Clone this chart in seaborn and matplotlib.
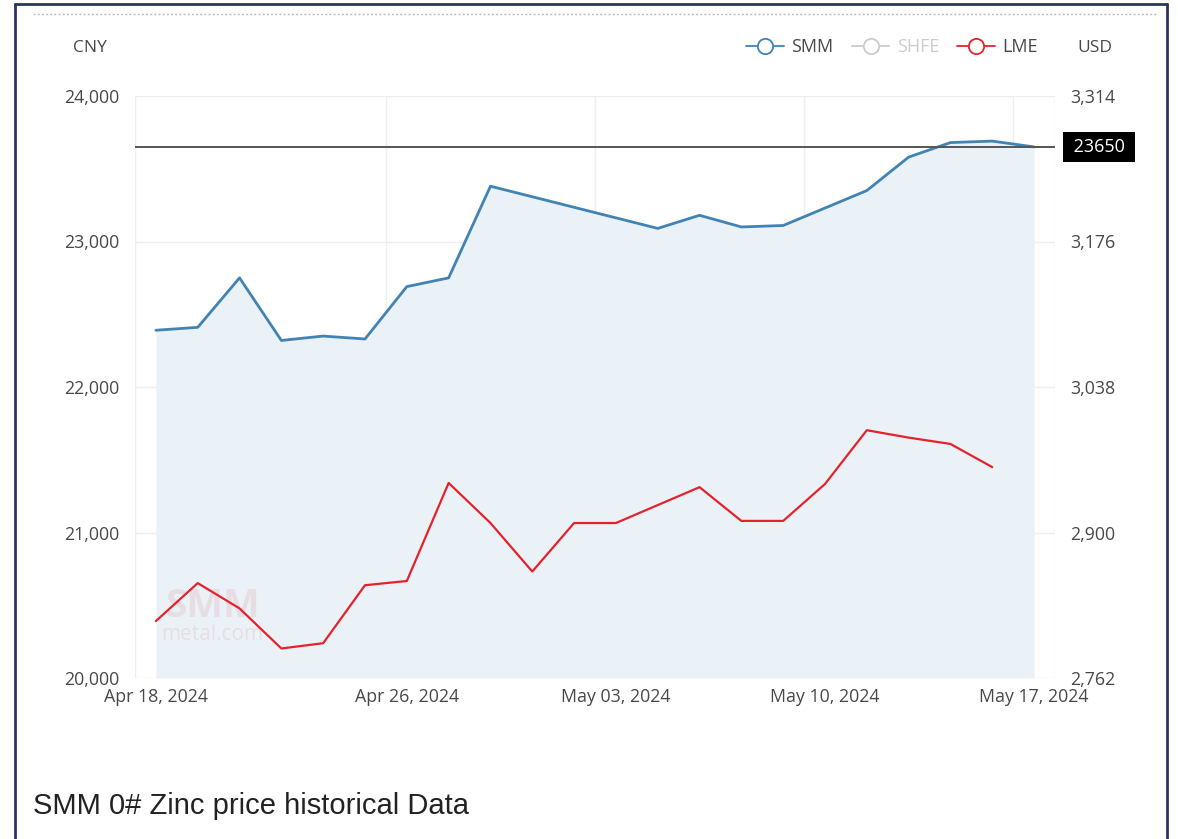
import pandas as pd
import matplotlib
matplotlib.use('Agg')
import matplotlib.pyplot as plt
import matplotlib.transforms as mtransforms
from matplotlib.lines import Line2D
from matplotlib.ticker import FuncFormatter
import seaborn as sns

# Datos (dias habiles, Apr 18 - May 17, 2024)
dates = ['2024-04-18', '2024-04-19', '2024-04-22', '2024-04-23', '2024-04-24', '2024-04-25',
         '2024-04-26', '2024-04-29', '2024-04-30', '2024-05-01', '2024-05-02', '2024-05-03',
         '2024-05-06', '2024-05-07', '2024-05-08', '2024-05-09', '2024-05-10', '2024-05-13',
         '2024-05-14', '2024-05-15', '2024-05-16', '2024-05-17']
smm_cny = [22390, 22410, 22750, 22320, 22350, 22330, 22690, 22750, 23380, None, None, None,
           23090, 23180, 23100, 23110, 23230, 23350, 23580, 23680, 23690, 23650]
lme_usd = [2816, 2852, 2828, 2790, 2795, 2850, 2854, 2947, 2909, 2863, 2909, 2909,
           2926, 2943, 2911, 2911, 2946, 2997, 2990, 2984, 2962, None]
tick_dates = ['Apr 18, 2024', 'Apr 26, 2024', 'May 03, 2024', 'May 10, 2024', 'May 17, 2024']
cny_ticks = [20000, 21000, 22000, 23000, 24000]
usd_ticks = [2762, 2900, 3038, 3176, 3314]
last_price = 23650
series_names = ['SMM', 'SHFE', 'LME']
series_colors = ['#4183b3', '#cccccc', '#e5222b']

df = pd.DataFrame({'date': pd.to_datetime(dates), 'SMM': smm_cny, 'LME': lme_usd})
df['pos'] = range(len(df))
df['label'] = df['date'].dt.strftime('%b %d, %Y')
smm = df.dropna(subset=['SMM'])
lme = df.dropna(subset=['LME'])

sns.set_style('white')
plt.rcParams['font.family'] = ['Open Sans', 'DejaVu Sans']

W, H = 1178, 839
fig = plt.figure(figsize=(W / 100, H / 100), dpi=100)
ax = fig.add_axes([135 / W, 1 - 678 / H, 920 / W, 582 / H])
ax2 = ax.twinx()

# Area + lineas
ax.fill_between(smm['pos'], smm['SMM'], cny_ticks[0], color='#ebf2f7', lw=0, zorder=1)
sns.lineplot(data=smm, x='pos', y='SMM', ax=ax, color=series_colors[0], lw=2, zorder=3)
ax.axhline(last_price, color='#555555', lw=1.4, zorder=4)
sns.lineplot(data=lme, x='pos', y='LME', ax=ax2, color=series_colors[2], lw=1.6)

# Marca de agua
ax.text(1.35, 20490, 'SMM', ha='center', va='center', fontsize=28, weight='bold',
        color='#d98f96', alpha=0.2, zorder=2)
ax.text(1.35, 20300, 'metal.com', ha='center', va='center', fontsize=15,
        color='#d98f96', alpha=0.2, zorder=2)

# Ejes
tick_pos = df.loc[df['label'].isin(tick_dates), 'pos'].tolist()
n = len(df)
ax.set_xlim(-0.5, n - 0.5)
ax.set_xticks(tick_pos)
ax.set_xticklabels(tick_dates)
ax.set_xticks([-0.5] + [p - 0.5 for p in tick_pos[1:]] + [n - 0.5], minor=True)
ax.set_ylim(cny_ticks[0], cny_ticks[-1])
ax.set_yticks(cny_ticks)
ax.yaxis.set_major_formatter(FuncFormatter(lambda v, p: f'{v:,.0f}'))
ax2.set_ylim(usd_ticks[0], usd_ticks[-1])
ax2.set_yticks(usd_ticks)
ax2.yaxis.set_major_formatter(FuncFormatter(lambda v, p: f'{v:,.0f}'))
ax.grid(axis='y', which='major', color='#eeeeee', lw=1)
ax.grid(axis='x', which='minor', color='#eeeeee', lw=1)
ax.grid(axis='x', which='major', visible=False)
ax.set_axisbelow(True)
ax.set_xlabel('')
ax.set_ylabel('')
ax2.set_ylabel('')
for a in (ax, ax2):
    for s in a.spines.values():
        s.set_visible(False)
lab = 12.8
ax.tick_params(axis='y', length=0, pad=11, labelsize=lab, labelcolor='#484848')
ax.tick_params(axis='x', which='both', length=0, pad=7, labelsize=lab, labelcolor='#484848')
ax2.tick_params(axis='y', length=0, pad=11, labelsize=lab, labelcolor='#484848')

# Etiqueta del ultimo precio
trans = mtransforms.blended_transform_factory(ax.transAxes, ax.transData)
ax.text(1.048, last_price, ' ' + str(last_price) + ' ', transform=trans, ha='center', va='center',
        color='white', fontsize=13, clip_on=False,
        bbox=dict(boxstyle='square,pad=0.32', fc='black', ec='none'))

# Unidades
fig.text(90 / W, 1 - 48 / H, 'CNY', ha='center', va='center', fontsize=12.5, color='#484848')
fig.text(1095 / W, 1 - 48 / H, 'USD', ha='center', va='center', fontsize=12.5, color='#484848')

# Leyenda
handles = [Line2D([], [], color=c, marker='o', markersize=11, markerfacecolor='white',
                  markeredgewidth=1.3, lw=1.3) for c in series_colors]
leg = fig.legend(handles, series_names, loc='center right', bbox_to_anchor=(1054 / W, 1 - 47 / H),
                 ncol=3, frameon=False, fontsize=13, handlelength=2.1, columnspacing=1.0,
                 handletextpad=0.4)
for t, name in zip(leg.get_texts(), series_names):
    t.set_color('#cccccc' if name == 'SHFE' else '#484848')

# Titulo
fig.text(33 / W, 1 - 806 / H, 'SMM 0# Zinc price historical Data', ha='left', va='center',
         fontsize=21, color='#222222', family=['Liberation Sans', 'DejaVu Sans'])

# Marco
border = '#2a3463'
fig.add_artist(Line2D([15 / W, 15 / W], [0, 1 - 4 / H], transform=fig.transFigure, color=border, lw=2))
fig.add_artist(Line2D([1167 / W, 1167 / W], [0, 1 - 4 / H], transform=fig.transFigure, color=border, lw=2))
fig.add_artist(Line2D([15 / W, 1167 / W], [1 - 4 / H, 1 - 4 / H], transform=fig.transFigure, color=border, lw=2))
fig.add_artist(Line2D([33 / W, 1157 / W], [1 - 14 / H, 1 - 14 / H], transform=fig.transFigure,
                      color='#bbbbbb', lw=1, linestyle=(0, (1.5, 1.5))))

fig.savefig('out.png', dpi=100)
